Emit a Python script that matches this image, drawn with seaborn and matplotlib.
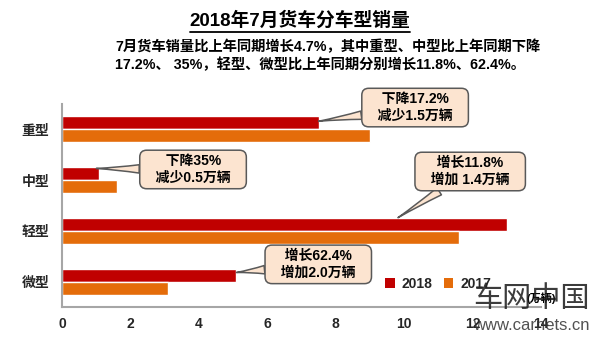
import matplotlib
matplotlib.use("Agg")
import matplotlib.pyplot as plt
import seaborn as sns
import pandas as pd
from matplotlib.lines import Line2D
from matplotlib.patches import Patch

# ---- data ----
categories = ["重型", "中型", "轻型", "微型"]
sales_2018 = [7.5, 1.08, 13.0, 5.1]
sales_2017 = [9.0, 1.6, 11.6, 3.1]
years = ["2018", "2017"]
xticks = [0, 2, 4, 6, 8, 10, 12, 14]
callouts = ["下降17.2%\n减少1.5万辆", "下降35%\n减少0.5万辆",
            "增长11.8%\n增加 1.4万辆", "增长62.4%\n增加2.0万辆"]
title = "2018年7月货车分车型销量"
subtitle = ("7月货车销量比上年同期增长4.7%，其中重型、中型比上年同期下降\n"
            "17.2%、 35%，轻型、微型比上年同期分别增长11.8%、62.4%。")
unit = "(万辆)"

RED = "#C00000"
ORANGE = "#E46C0A"
PEACH = "#FCE4D0"
GRAY = "#A6A6A6"

sns.set_theme(style="white")
plt.rcParams["font.family"] = ["Liberation Sans", "Noto Sans CJK SC", "DejaVu Sans"]
plt.rcParams["font.weight"] = "bold"

df = pd.DataFrame({
    "车型": categories * 2,
    "年份": [years[0]] * 4 + [years[1]] * 4,
    "销量": sales_2018 + sales_2017,
})

fig = plt.figure(figsize=(6, 3.4), dpi=100)
ax = fig.add_axes([62 / 600, 1 - 307 / 340, (541 - 62) / 600, (307 - 104) / 340])

sns.barplot(data=df, y="车型", x="销量", hue="年份", hue_order=years,
            order=categories, orient="h", palette=[RED, ORANGE],
            width=0.51, ax=ax, legend=False, saturation=1, errorbar=None)

ax.set_xlim(0, 14)
ax.set_ylim(3.5, -0.5)
ax.set_xlabel("")
ax.set_ylabel("")
ax.set_xticks(xticks)
ax.set_xticklabels([str(t) for t in xticks], fontsize=10, fontweight="bold")
ax.set_yticks(range(len(categories)))
ax.set_yticklabels(categories, fontsize=10, fontweight="bold")
ax.set_yticks([-0.5, 0.5, 1.5, 2.5, 3.5], minor=True)
ax.tick_params(axis="y", which="major", length=0, pad=9)
ax.tick_params(axis="y", which="minor", length=4, direction="in", color="#595959", width=1)
ax.tick_params(axis="x", which="major", length=4, direction="in", color="#595959",
               width=1, pad=7)
for s in ["top", "right"]:
    ax.spines[s].set_visible(False)
for s in ["left", "bottom"]:
    ax.spines[s].set_color(GRAY)
    ax.spines[s].set_linewidth(1.5)
ax.grid(False)

# ---- callouts ----
points = [(7.5, -0.16), (1.0, 0.77), (9.82, 1.74), (5.1, 2.82)]
texts = [(10.32, -0.43), (3.83, 0.79), (11.93, 0.83), (7.49, 2.66)]
for txt, xy, xyt in zip(callouts, points, texts):
    padded = "\n".join("   " + line + "   " for line in txt.split("\n"))
    ax.annotate(padded, xy=xy, xytext=xyt, ha="center", va="center",
                fontsize=10, fontweight="bold", color="black", linespacing=1.2,
                annotation_clip=False,
                bbox=dict(boxstyle="round,pad=0.3,rounding_size=0.5",
                          fc=PEACH, ec="#595959", lw=1.1),
                arrowprops=dict(arrowstyle="wedge,tail_width=0.6,shrink_factor=0.4",
                                fc=PEACH, ec="#595959", lw=1.1,
                                shrinkA=0, shrinkB=0))

# ---- titles ----
t = fig.text(0.5, 1 - 21 / 340, title, ha="center", va="center",
             fontsize=13.5, fontweight="bold", color="black")
fig.text(115 / 600, 1 - 56 / 340, subtitle, ha="left", va="center",
         fontsize=10.3, fontweight="bold", color="black", linespacing=1.3)

fig.canvas.draw()
bb = t.get_window_extent(renderer=fig.canvas.get_renderer())
bbf = bb.transformed(fig.transFigure.inverted())
fig.add_artist(Line2D([bbf.x0, bbf.x1], [bbf.y0 - 0.004, bbf.y0 - 0.004],
                      transform=fig.transFigure, color="black", lw=1.3))

# ---- legend ----
handles = [Patch(fc=RED, ec="none"), Patch(fc=ORANGE, ec="none")]
fig.legend(handles, years, loc="center", bbox_to_anchor=(438 / 600, 1 - 284 / 340),
           ncol=2, frameon=False, handlelength=0.7, handleheight=0.7,
           handletextpad=0.5, columnspacing=0.8,
           prop=dict(size=10, weight="bold"))

fig.text(541 / 600, 1 - 298 / 340, unit, ha="center", va="center",
         fontsize=8, fontweight="bold", color="black")

# ---- watermark ----
fig.text(531 / 600, 1 - 299 / 340, "车网中国", ha="center", va="center",
         fontsize=21, color="#1a1a1a", alpha=0.85, fontweight="normal")
fig.text(531 / 600, 1 - 326 / 340, "www.carnets.cn", ha="center", va="center",
         fontsize=12, color="#333333", alpha=0.85, fontweight="normal")

fig.savefig("out.png", dpi=100)
